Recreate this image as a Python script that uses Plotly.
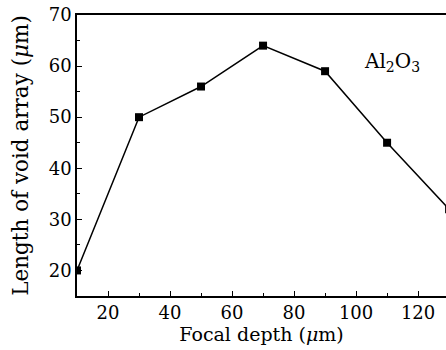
import plotly.graph_objects as go

focal_depth = [10, 30, 50, 70, 90, 110, 130]
void_length = [20, 50, 56, 64, 59, 45, 32]

x_ticks = [20, 40, 60, 80, 100, 120]
y_ticks = [20, 30, 40, 50, 60, 70]

fig = go.Figure()
fig.add_trace(go.Scatter(
    x=focal_depth, y=void_length, mode="lines+markers",
    line=dict(color="black", width=1.5),
    marker=dict(symbol="square", size=8, color="black"),
    showlegend=False,
))

font_family = "DejaVu Serif, Liberation Serif, serif"
fig.update_layout(
    width=446, height=350,
    margin=dict(l=77, r=0, t=15, b=54),
    paper_bgcolor="white", plot_bgcolor="white",
    font=dict(family=font_family, size=18, color="black"),
    xaxis=dict(
        range=[10, 129], tickvals=x_ticks, ticks="inside", ticklen=5,
        tickwidth=1.2, tickcolor="black",
        showline=True, linecolor="black", linewidth=1.5, mirror=True,
        showgrid=False, zeroline=False,
        minor=dict(dtick=10, tick0=0, ticks="inside", ticklen=3, tickcolor="black", tickwidth=1),
        title=dict(text="Focal depth (<i>μ</i>m)", standoff=2, font=dict(size=19)),
        tickfont=dict(size=18),
    ),
    yaxis=dict(
        range=[15, 70], tickvals=y_ticks, ticks="inside", ticklen=5,
        tickwidth=1.2, tickcolor="black",
        showline=True, linecolor="black", linewidth=1.5, mirror=False,
        showgrid=False, zeroline=False,
        minor=dict(dtick=5, tick0=0, ticks="inside", ticklen=3, tickcolor="black", tickwidth=1),
        title=dict(text="Length of void array (<i>μ</i>m)", standoff=14, font=dict(size=21.5)),
        tickfont=dict(size=18),
    ),
)

fig.add_annotation(
    x=0.854, y=0.833, xref="paper", yref="paper", xanchor="center", yanchor="middle",
    text="Al<sub>2</sub>O<sub>3</sub>", showarrow=False,
    font=dict(family=font_family, size=20, color="black"),
)

fig.write_html("out.html", config={"displayModeBar": False},
               post_script="document.body.style.margin='0';document.body.style.overflow='hidden';")
